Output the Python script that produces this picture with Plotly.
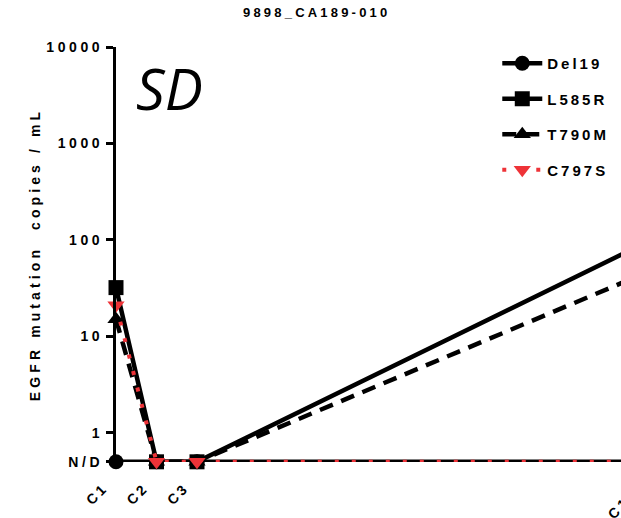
import math
import plotly.graph_objects as go

cycles = [1, 2, 3, 14]
cycle_labels = ["C1", "C2", "C3", "C14"]
ND = 0.5
del19 = [ND, ND, ND, ND]
l585r = [32, ND, ND, 90]
t790m = [15, ND, ND, 44]
c797s = [21, ND, ND, ND]
y_tickvals = [ND, 1, 10, 100, 1000, 10000]
y_ticktext = ["N/D", "1", "10", "100", "1000", "10000"]

RED = "#EE3338"
FONT = "Liberation Sans"

def ls(t, s=3.5):
    return f'<span style="letter-spacing:{s}px">{t}</span>'

fig = go.Figure()
series = [
    ("Del19", del19, "circle", "black", "solid"),
    ("L585R", l585r, "square", "black", "solid"),
    ("T790M", t790m, "triangle-up", "black", "14px,9px"),
    ("C797S", c797s, "triangle-down", RED, "4px,13px"),
]
for name, vals, sym, col, dash in series:
    fig.add_trace(go.Scatter(
        x=cycles, y=vals, name=ls(name, 3), mode="lines+markers",
        legendgroup=name,
        line=dict(color=col, width=4.5 if col == "black" else 4, dash=dash),
        marker=dict(symbol=sym, size=15, color=col),
        cliponaxis=False,
    ))

x0, x1 = 1, 13.47
y_lo = math.log10(ND) - 0.002
fig.update_xaxes(
    type="linear", range=[x0, x1], tickvals=cycles[:3], ticktext=[ls(t, 3) for t in cycle_labels[:3]],
    tickangle=-45, showgrid=False, zeroline=False, showline=False,
    ticks="", ticklabelstandoff=14, ticklabelshift=-12, automargin=False,
    tickfont=dict(family=FONT, size=14, color="black", weight="bold"),
)
fig.update_yaxes(
    type="log", range=[y_lo, 4], tickvals=y_tickvals, ticktext=[ls(t, 3.6) for t in y_ticktext],
    showgrid=False, zeroline=False, showline=True, linewidth=3, linecolor="black",
    ticks="outside", ticklen=7, tickwidth=3, tickcolor="black", automargin=False,
    tickfont=dict(family=FONT, size=14, color="black", weight="bold"),
    title=dict(text=ls("EGFR mutation  copies / mL", 4.1),
               font=dict(family=FONT, size=14, color="black", weight="bold"), standoff=3),
)
fig.add_annotation(
    xref="paper", yref="paper", x=(cycles[3] - x0) / (x1 - x0), y=0,
    text=ls(cycle_labels[3], 3), textangle=-45, showarrow=False,
    xanchor="center", yanchor="middle", yshift=-42, xshift=-20,
    font=dict(family=FONT, size=14, color="black", weight="bold"),
)
fig.add_annotation(
    xref="paper", yref="paper", x=0.035, y=1.0, text="SD", showarrow=False,
    xanchor="left", yanchor="top",
    font=dict(family="Open Sans", size=57, color="black", style="italic"),
)
fig.update_layout(
    width=621, height=518,
    margin=dict(l=116, r=0, t=47, b=56),
    paper_bgcolor="white", plot_bgcolor="white",
    title=dict(text=ls("9898_CA189-010", 3.2), xref="container", x=0.51, xanchor="center",
               y=0.985, yanchor="top",
               font=dict(family=FONT, size=13, color="black", weight="bold")),
    legend=dict(x=0.755, y=1.0, xanchor="left", yanchor="top", tracegroupgap=13,
                bgcolor="rgba(0,0,0,0)", itemwidth=40,
                font=dict(family=FONT, size=15, color="black", weight="bold")),
    showlegend=True,
)
fig.write_html("out.html", config={"displayModeBar": False},
               post_script="document.body.style.margin='0';document.body.style.overflow='hidden';")
